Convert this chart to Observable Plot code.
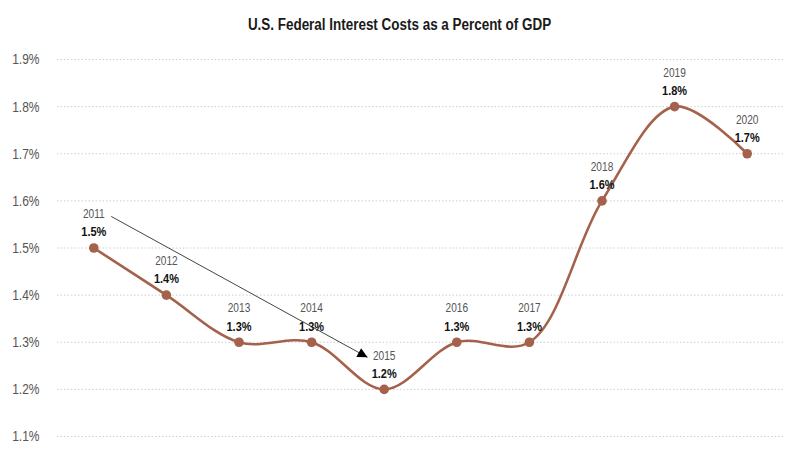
<!DOCTYPE html>
<html>
<head>
<meta charset="utf-8">
<script src="https://cdn.jsdelivr.net/npm/d3@7"></script>
<script src="https://cdn.jsdelivr.net/npm/@observablehq/plot@0.6"></script>
<style>
  html, body { margin: 0; padding: 0; background: #fff; }
  body { width: 799px; height: 456px; overflow: hidden; font-family: "Liberation Sans", Arial, sans-serif; }
  #title { height: 40px; line-height: 50px; text-align: center; }
  #title span { display: inline-block; font-weight: bold; font-size: 16px; color: #1a1a1a; transform: scaleX(0.84); transform-origin: 50% 50%; white-space: nowrap; }
</style>
</head>
<body>
<div id="title"><span>U.S. Federal Interest Costs as a Percent of GDP</span></div>
<div id="chart"></div>
<script>
const years = [2011, 2012, 2013, 2014, 2015, 2016, 2017, 2018, 2019, 2020];
const values = [1.5, 1.4, 1.3, 1.3, 1.2, 1.3, 1.3, 1.6, 1.8, 1.7];
const valueLabels = ["1.5%", "1.4%", "1.3%", "1.3%", "1.2%", "1.3%", "1.3%", "1.6%", "1.8%", "1.7%"];
const yTicks = [1.1, 1.2, 1.3, 1.4, 1.5, 1.6, 1.7, 1.8, 1.9];
const arrowFrom = { x: 2011.24, y: 1.567 };
const arrowTo = { x: 2014.77, y: 1.268 };

const data = years.map((yr, i) => ({ year: yr, value: values[i], label: valueLabels[i] }));
const font = `"Liberation Sans", Arial, sans-serif`;
const brown = "#a4614b";

const chart = Plot.plot({
  width: 799,
  height: 416,
  marginLeft: 57,
  marginRight: 16,
  marginTop: 19,
  marginBottom: 20,
  style: { fontFamily: font, background: "#fff", overflow: "visible" },
  x: { type: "linear", domain: [2010.5, 2020.5], axis: null },
  y: { domain: [1.1, 1.9], ticks: yTicks, tickSize: 0, tickPadding: 18, tickFormat: d => d.toFixed(1) + "%", label: null },
  marks: [
    Plot.ruleY(yTicks, { stroke: "#cfcfcf", strokeWidth: 1, strokeDasharray: "1.5,2" }),
    Plot.line(data, { x: "year", y: "value", stroke: brown, strokeWidth: 2.6, curve: "catmull-rom" }),
    Plot.dot(data, { x: "year", y: "value", r: 4.8, fill: brown, stroke: "none" }),
    Plot.link([{ x1: arrowFrom.x, y1: arrowFrom.y, x2: arrowTo.x, y2: arrowTo.y }], { x1: "x1", y1: "y1", x2: "x2", y2: "y2", stroke: "#444", strokeWidth: 1 }),
    Plot.text(data, { x: "year", y: "value", text: d => String(d.year), dy: -34, fill: "#555", fontSize: 13 }),
    Plot.text(data, { x: "year", y: "value", text: "label", dy: -16, fill: "#111", fontWeight: "bold", fontSize: 13.4 })
  ]
});

// style y-axis labels directly
chart.querySelectorAll('g[aria-label^="y-axis"] text').forEach(t => {
  t.setAttribute("font-size", "15.4");
  t.style.fontSize = "15.4px";
  t.setAttribute("fill", "#555");
  t.style.fill = "#555";
});

// condensed look: compress text horizontally around its anchor
chart.querySelectorAll("text").forEach(t => {
  const fw = t.closest("[font-weight]");
  const bold = fw && fw.getAttribute("font-weight") === "bold";
  const s = bold ? 0.82 : 0.78;
  const ax = parseFloat(t.getAttribute("x") || "0") || 0;
  const tr = t.getAttribute("transform") || "";
  t.setAttribute("transform", `${tr} translate(${ax},0) scale(${s},1) translate(${-ax},0)`.trim());
});

// filled triangle arrowhead
const ns = "http://www.w3.org/2000/svg";
const defs = document.createElementNS(ns, "defs");
const marker = document.createElementNS(ns, "marker");
marker.setAttribute("id", "tri-head");
marker.setAttribute("viewBox", "0 0 10 10");
marker.setAttribute("refX", "10");
marker.setAttribute("refY", "5");
marker.setAttribute("markerWidth", "11");
marker.setAttribute("markerHeight", "10");
marker.setAttribute("markerUnits", "userSpaceOnUse");
marker.setAttribute("orient", "auto");
const mp = document.createElementNS(ns, "path");
mp.setAttribute("d", "M0,0L10,5L0,10Z");
mp.setAttribute("fill", "#000");
marker.appendChild(mp);
defs.appendChild(marker);
chart.insertBefore(defs, chart.firstChild);
const lp = chart.querySelector('g[aria-label="link"] path');
if (lp) lp.setAttribute("marker-end", "url(#tri-head)");

document.getElementById("chart").appendChild(chart);
</script>
</body>
</html>
